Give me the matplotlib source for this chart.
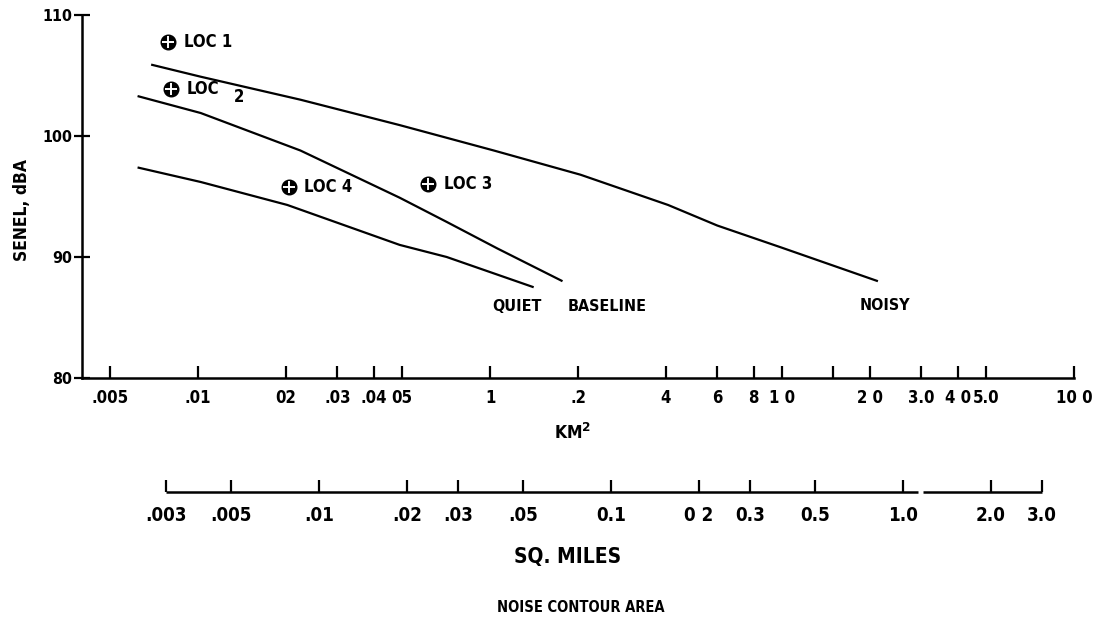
import numpy as np
import matplotlib
matplotlib.use("Agg")
import matplotlib.pyplot as plt
from matplotlib.transforms import blended_transform_factory

# Contour area (km^2) versus SENEL (dBA) for three aircraft noise levels
quiet_km2 = [0.0062, 0.0102, 0.0202, 0.049, 0.071, 0.141]
quiet_db = [97.4, 96.2, 94.3, 91.0, 90.0, 87.5]

baseline_km2 = [0.0062, 0.0102, 0.0224, 0.049, 0.071, 0.106, 0.177]
baseline_db = [103.3, 101.9, 98.8, 94.9, 92.9, 90.7, 88.0]

noisy_km2 = [0.0069, 0.0102, 0.0224, 0.049, 0.103, 0.204, 0.407, 0.6, 0.99, 2.13]
noisy_db = [105.9, 104.9, 103.0, 100.9, 98.8, 96.8, 94.3, 92.6, 90.8, 88.0]

# Measurement locations
loc_names = ["LOC 1", "LOC 2", "LOC 4", "LOC 3"]
loc_km2 = [0.0079, 0.0081, 0.0204, 0.0614]
loc_db = [107.8, 103.9, 95.8, 96.0]

# Curve end labels
curve_names = ["QUIET", "BASELINE", "NOISY"]
curve_label_km2 = [0.102, 0.185, 1.84]
curve_label_db = [85.9, 85.9, 86.0]

# Axis ticks
km2_ticks = [0.005, 0.01, 0.02, 0.03, 0.04, 0.05, 0.1, 0.2, 0.4, 0.6, 0.8,
             1.0, 1.5, 2.0, 3.0, 4.0, 5.0, 10.0]
km2_labels = [".005", ".01", "02", ".03", ".04", "05", "1", ".2", "4", "6", "8",
              "1 0", "", "2 0", "3.0", "4 0", "5.0", "10 0"]
sqmi_ticks = [0.003, 0.005, 0.01, 0.02, 0.03, 0.05, 0.1, 0.2, 0.3, 0.5, 1.0, 2.0, 3.0]
sqmi_labels = [".003", ".005", ".01", ".02", ".03", ".05", "0.1", "0 2", "0.3",
               "0.5", "1.0", "2.0", "3.0"]
db_ticks = [80, 90, 100, 110]

KM2_PER_SQMI = 2.59
XMIN, XMAX = 0.004, 10.0

plt.rcParams["font.family"] = ["DejaVu Sans"]
FONT = dict(fontweight="bold", fontstretch="condensed")

W, H = 1099, 623
fig = plt.figure(figsize=(W / 100, H / 100), dpi=100)

left, right = 82 / W, 1074 / W
bottom, top = 1 - 378 / H, 1 - 15 / H
ax = fig.add_axes([left, bottom, right - left, top - bottom])
ax.set_xscale("log")
ax.set_xlim(XMIN, XMAX)
ax.set_ylim(80, 110)

lw = 1.6
ax.plot(quiet_km2, quiet_db, color="black", lw=lw, solid_capstyle="butt")
ax.plot(baseline_km2, baseline_db, color="black", lw=lw, solid_capstyle="butt")
ax.plot(noisy_km2, noisy_db, color="black", lw=lw, solid_capstyle="butt")

for name, x, y in zip(loc_names, loc_km2, loc_db):
    ax.plot(x, y, marker="o", ms=10.5, color="black", zorder=4)
    ax.plot(x, y, marker="+", ms=9, mew=1.4, color="white", zorder=5)
    if name == "LOC 2":
        ax.annotate("LOC", (x, y), xytext=(11, 0), textcoords="offset points",
                    va="center", ha="left", fontsize=12, **FONT)
        ax.annotate("2", (x, y), xytext=(45, -6), textcoords="offset points",
                    va="center", ha="left", fontsize=12, **FONT)
    else:
        ax.annotate(name, (x, y), xytext=(11, 0), textcoords="offset points",
                    va="center", ha="left", fontsize=12, **FONT)

for name, x, y in zip(curve_names, curve_label_km2, curve_label_db):
    ax.text(x, y, name, ha="left", va="center", fontsize=11.5, **FONT)

for s in ("top", "right"):
    ax.spines[s].set_visible(False)
for s in ("left", "bottom"):
    ax.spines[s].set_linewidth(1.8)
ax.spines["bottom"].set_bounds(XMIN, XMAX)

ax.set_xticks(km2_ticks)
ax.set_xticklabels(km2_labels)
ax.xaxis.set_minor_locator(matplotlib.ticker.NullLocator())
ax.tick_params(axis="x", direction="in", length=9, width=1.6, pad=8, labelsize=12)
ax.set_yticks(db_ticks)
ax.set_yticklabels([str(v) for v in db_ticks])
ax.tick_params(axis="y", direction="inout", length=12, width=1.6, pad=1, labelsize=11.5)
for lab in ax.get_xticklabels() + ax.get_yticklabels():
    lab.set_fontweight("bold")
    lab.set_fontstretch("condensed")

ylab = ax.set_ylabel("SENEL, dBA", fontsize=12.5, va="center", **FONT)
ax.yaxis.set_label_coords((22 - 82) / 992, (378 - 210) / 363)
fig.text(573 / W, 1 - 433 / H, "KM$^{\\mathbf{2}}$", ha="center", va="center",
         fontsize=12.5, **FONT)

# Square-mile scale underneath, sharing the same logarithmic positions
sq_y = 1 - 492 / H
ax2 = fig.add_axes([left, sq_y, right - left, 0.01])
ax2.set_xscale("log")
ax2.set_xlim(XMIN / KM2_PER_SQMI, XMAX / KM2_PER_SQMI)
ax2.set_ylim(0, 1)
ax2.patch.set_visible(False)
for s in ("top", "right", "left", "bottom"):
    ax2.spines[s].set_visible(False)
trans = blended_transform_factory(ax2.transData, ax2.transAxes)
ax2.plot([sqmi_ticks[0], 1.13], [0, 0], color="black", lw=1.8, transform=trans,
         clip_on=False, solid_capstyle="butt")
ax2.plot([1.175, sqmi_ticks[-1]], [0, 0], color="black", lw=1.8, transform=trans,
         clip_on=False, solid_capstyle="butt")
ax2.set_xticks(sqmi_ticks)
ax2.set_xticklabels(sqmi_labels)
ax2.xaxis.set_minor_locator(matplotlib.ticker.NullLocator())
ax2.set_yticks([])
ax2.tick_params(axis="x", direction="in", length=9, width=1.6, pad=10, labelsize=13.5)
for lab in ax2.get_xticklabels():
    lab.set_fontweight("bold")
    lab.set_fontstretch("condensed")

fig.text(568 / W, 1 - 557 / H, "SQ. MILES", ha="center", va="center",
         fontsize=15, **FONT)
fig.text(581 / W, 1 - 608 / H, "NOISE CONTOUR AREA", ha="center", va="center",
         fontsize=10.5, **FONT)

fig.savefig("out.png", dpi=100, facecolor="white")
